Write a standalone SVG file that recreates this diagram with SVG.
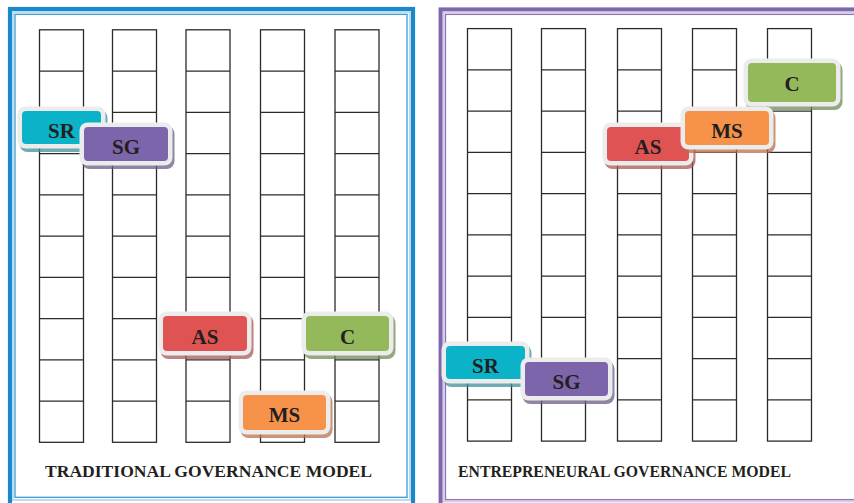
<svg xmlns="http://www.w3.org/2000/svg" xmlns:xlink="http://www.w3.org/1999/xlink" width="854" height="503" viewBox="0 0 854 503">
  <style>
    .cell { fill: #ffffff; stroke: #2b2b2b; stroke-width: 1.3; }
    .rule { stroke: #2b2b2b; stroke-width: 1.3; }
    .frame { fill: #ececec; }
    .face-lbl { font-family: "Liberation Serif", "Times New Roman", serif; font-weight: bold; font-size: 21px; fill: #231f20; text-anchor: middle; }
    .title { font-family: "Liberation Serif", "Times New Roman", serif; font-weight: bold; fill: #231f20; }
    .sr .face { fill: #0bb3c8; } .sr .shadow { fill: #3f8f99; }
    .sg .face { fill: #7d65ab; } .sg .shadow { fill: #6b5e86; }
    .as .face { fill: #e05353; } .as .shadow { fill: #a85a57; }
    .c  .face { fill: #93b95a; } .c  .shadow { fill: #6f8a55; }
    .ms .face { fill: #f7924b; } .ms .shadow { fill: #b8704a; }
    .shadow { opacity: 0.75; }
  </style>
  <defs>
    <!-- one column of ten stacked cells -->
    <g id="col">
      <rect class="cell" x="0" y="0" width="44" height="412.5"/>
      <line class="rule" x1="0" y1="41.25" x2="44" y2="41.25"/>
      <line class="rule" x1="0" y1="82.5" x2="44" y2="82.5"/>
      <line class="rule" x1="0" y1="123.75" x2="44" y2="123.75"/>
      <line class="rule" x1="0" y1="165" x2="44" y2="165"/>
      <line class="rule" x1="0" y1="206.25" x2="44" y2="206.25"/>
      <line class="rule" x1="0" y1="247.5" x2="44" y2="247.5"/>
      <line class="rule" x1="0" y1="288.75" x2="44" y2="288.75"/>
      <line class="rule" x1="0" y1="330" x2="44" y2="330"/>
      <line class="rule" x1="0" y1="371.25" x2="44" y2="371.25"/>
    </g>
  </defs>

  <rect x="0" y="0" width="854" height="503" fill="#ffffff"/>

  <!-- left panel frame -->
  <g id="panel-traditional">
    <rect x="10" y="9" width="403" height="497" fill="none" stroke="#1a88c9" stroke-width="4.2"/>
    <rect x="13" y="12" width="397" height="488" fill="none" stroke="#b9def2" stroke-width="2"/>
    <rect x="15" y="14.3" width="392" height="483" fill="none" stroke="#3d9bd2" stroke-width="1.3"/>
  </g>

  <!-- right panel frame -->
  <g id="panel-entrepreneurial">
    <rect x="440.7" y="9.5" width="420" height="496" fill="none" stroke="#7e67ae" stroke-width="4.2"/>
    <rect x="443.6" y="12.4" width="420" height="489" fill="none" stroke="#d6cce6" stroke-width="2"/>
    <rect x="445.5" y="14.4" width="420" height="485.2" fill="none" stroke="#8a76b6" stroke-width="1.3"/>
  </g>

  <!-- grids -->
  <g id="grid-traditional">
    <use xlink:href="#col" x="39.5" y="29.8"/>
    <use xlink:href="#col" x="112.5" y="29.8"/>
    <use xlink:href="#col" x="186" y="29.8"/>
    <use xlink:href="#col" x="260.5" y="29.8"/>
    <use xlink:href="#col" x="335" y="29.8"/>
  </g>
  <g id="grid-entrepreneurial">
    <use xlink:href="#col" x="467.5" y="28.6"/>
    <use xlink:href="#col" x="541.5" y="28.6"/>
    <use xlink:href="#col" x="617.5" y="28.6"/>
    <use xlink:href="#col" x="692.5" y="28.6"/>
    <use xlink:href="#col" x="767.5" y="28.6"/>
  </g>

  <!-- connectors: none drawn -->
  <g id="connectors"/>

  <!-- traditional model tokens -->
  <g id="trad-sr" class="sr" transform="translate(22,111)">
    <rect class="shadow" x="-2.5" y="-1" width="88" height="42" rx="8"/>
    <rect class="frame" x="-4.5" y="-4.5" width="88" height="42" rx="8"/>
    <rect class="face" width="79" height="33" rx="4"/>
    <text class="face-lbl" x="39.5" y="26.5">SR</text>
  </g>
  <g id="trad-sg" class="sg" transform="translate(84,127)">
    <rect class="shadow" x="-2.5" y="-1" width="93" height="43" rx="8"/>
    <rect class="frame" x="-4.5" y="-4.5" width="93" height="43" rx="8"/>
    <rect class="face" width="84" height="34" rx="4"/>
    <text class="face-lbl" x="42" y="27">SG</text>
  </g>
  <g id="trad-as" class="as" transform="translate(163,316)">
    <rect class="shadow" x="-2.5" y="-1" width="93" height="44" rx="8"/>
    <rect class="frame" x="-4.5" y="-4.5" width="93" height="44" rx="8"/>
    <rect class="face" width="84" height="35" rx="4"/>
    <text class="face-lbl" x="42" y="27.5">AS</text>
  </g>
  <g id="trad-c" class="c" transform="translate(306,316)">
    <rect class="shadow" x="-2.5" y="-1" width="92" height="44" rx="8"/>
    <rect class="frame" x="-4.5" y="-4.5" width="92" height="44" rx="8"/>
    <rect class="face" width="83" height="35" rx="4"/>
    <text class="face-lbl" x="41.5" y="28">C</text>
  </g>
  <g id="trad-ms" class="ms" transform="translate(243,395)">
    <rect class="shadow" x="-2.5" y="-1" width="92" height="44" rx="8"/>
    <rect class="frame" x="-4.5" y="-4.5" width="92" height="44" rx="8"/>
    <rect class="face" width="83" height="35" rx="4"/>
    <text class="face-lbl" x="41.5" y="27">MS</text>
  </g>

  <!-- entrepreneurial model tokens -->
  <g id="entr-c" class="c" transform="translate(748,63)">
    <rect class="shadow" x="-2.5" y="-1" width="97" height="48" rx="8"/>
    <rect class="frame" x="-4.5" y="-4.5" width="97" height="48" rx="8"/>
    <rect class="face" width="88" height="39" rx="4"/>
    <text class="face-lbl" x="44" y="27.5">C</text>
  </g>
  <g id="entr-as" class="as" transform="translate(607,127)">
    <rect class="shadow" x="-2.5" y="-1" width="91" height="43" rx="8"/>
    <rect class="frame" x="-4.5" y="-4.5" width="91" height="43" rx="8"/>
    <rect class="face" width="82" height="34" rx="4"/>
    <text class="face-lbl" x="41" y="26.5">AS</text>
  </g>
  <g id="entr-ms" class="ms" transform="translate(685,111)">
    <rect class="shadow" x="-2.5" y="-1" width="93" height="43" rx="8"/>
    <rect class="frame" x="-4.5" y="-4.5" width="93" height="43" rx="8"/>
    <rect class="face" width="84" height="34" rx="4"/>
    <text class="face-lbl" x="42" y="26.5">MS</text>
  </g>
  <g id="entr-sr" class="sr" transform="translate(446,346)">
    <rect class="shadow" x="-2.5" y="-1" width="88" height="42" rx="8"/>
    <rect class="frame" x="-4.5" y="-4.5" width="88" height="42" rx="8"/>
    <rect class="face" width="79" height="33" rx="4"/>
    <text class="face-lbl" x="39.5" y="27">SR</text>
  </g>
  <g id="entr-sg" class="sg" transform="translate(525,362)">
    <rect class="shadow" x="-2.5" y="-1" width="92" height="43" rx="8"/>
    <rect class="frame" x="-4.5" y="-4.5" width="92" height="43" rx="8"/>
    <rect class="face" width="83" height="34" rx="4"/>
    <text class="face-lbl" x="41.5" y="27">SG</text>
  </g>

  <!-- panel captions -->
  <text id="caption-traditional" class="title" x="45" y="476.7" font-size="17.5" textLength="327" lengthAdjust="spacingAndGlyphs">TRADITIONAL GOVERNANCE MODEL</text>
  <text id="caption-entrepreneurial" class="title" x="458" y="476.7" font-size="16" textLength="333" lengthAdjust="spacingAndGlyphs">ENTREPRENEURAL GOVERNANCE MODEL</text>
</svg>
